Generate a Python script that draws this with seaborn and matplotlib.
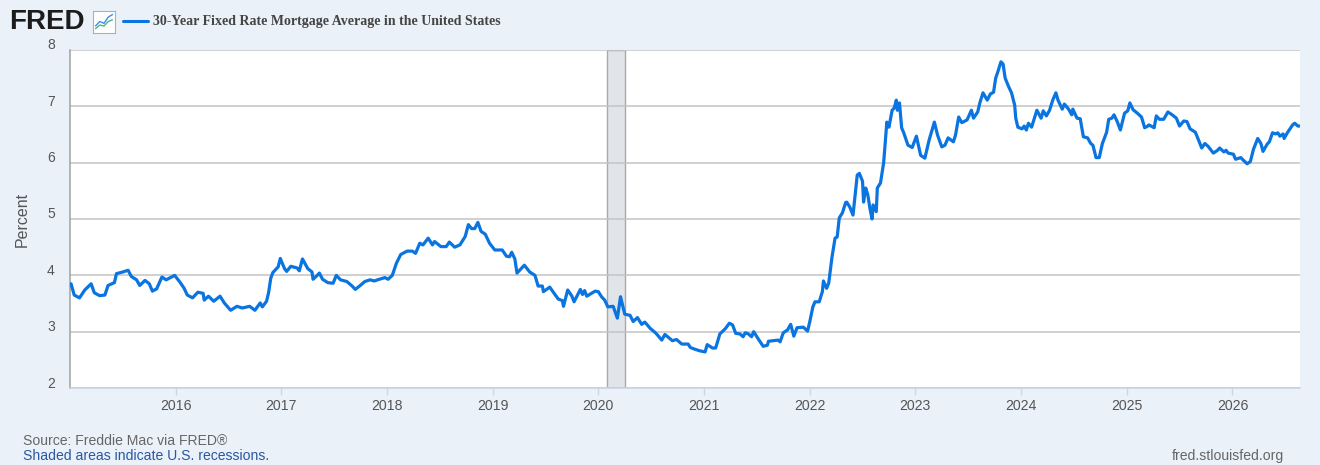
import pandas as pd
import seaborn as sns
import matplotlib
matplotlib.use('Agg')
import matplotlib.pyplot as plt
from matplotlib.lines import Line2D
from matplotlib.transforms import ScaledTranslation

# weekly readings, date as decimal year
obs_year = [
    2015.01, 2015.04, 2015.09, 2015.14, 2015.20, 2015.23, 2015.28, 2015.33, 2015.36, 2015.42, 2015.44, 2015.50,
    2015.55, 2015.58, 2015.63, 2015.66, 2015.71, 2015.75, 2015.78, 2015.82, 2015.87, 2015.91, 2015.99,
    2016.04, 2016.08, 2016.11, 2016.16, 2016.21, 2016.26, 2016.27, 2016.31, 2016.36, 2016.42, 2016.46, 2016.52,
    2016.58, 2016.63, 2016.70, 2016.75, 2016.80, 2016.82, 2016.86, 2016.88, 2016.90, 2016.92, 2016.97, 2016.99,
    2017.03, 2017.05, 2017.09, 2017.15, 2017.17, 2017.20, 2017.25, 2017.29, 2017.30, 2017.34, 2017.36, 2017.39,
    2017.44, 2017.49, 2017.52, 2017.56, 2017.62, 2017.67, 2017.70, 2017.74, 2017.79, 2017.84, 2017.88, 2017.91, 2017.98,
    2018.01, 2018.05, 2018.09, 2018.13, 2018.19, 2018.24, 2018.27, 2018.31, 2018.34, 2018.39, 2018.43, 2018.45,
    2018.51, 2018.56, 2018.59, 2018.64, 2018.69, 2018.74, 2018.77, 2018.80, 2018.83, 2018.86, 2018.89, 2018.93, 2018.97,
    2019.02, 2019.09, 2019.13, 2019.16, 2019.18, 2019.21, 2019.23, 2019.30, 2019.35, 2019.40, 2019.43, 2019.47, 2019.48,
    2019.54, 2019.57, 2019.62, 2019.66, 2019.67, 2019.71, 2019.75, 2019.77, 2019.83, 2019.85, 2019.87, 2019.89, 2019.97,
    2020.00, 2020.03, 2020.06, 2020.09, 2020.14, 2020.18, 2020.21, 2020.25, 2020.30, 2020.33, 2020.37, 2020.41, 2020.44,
    2020.49, 2020.54, 2020.56, 2020.60, 2020.63, 2020.70, 2020.74, 2020.79, 2020.85, 2020.87, 2020.91, 2020.96,
    2021.01, 2021.03, 2021.08, 2021.11, 2021.15, 2021.20, 2021.24, 2021.27, 2021.30, 2021.34, 2021.37, 2021.39, 2021.42,
    2021.45, 2021.47, 2021.51, 2021.56, 2021.60, 2021.61, 2021.70, 2021.72, 2021.75, 2021.79, 2021.82, 2021.85, 2021.88,
    2021.94, 2021.98,
    2022.00, 2022.03, 2022.05, 2022.09, 2022.12, 2022.13, 2022.16, 2022.18, 2022.21, 2022.24, 2022.26, 2022.28, 2022.31,
    2022.34, 2022.35, 2022.38, 2022.41, 2022.45, 2022.47, 2022.50, 2022.51, 2022.53, 2022.55, 2022.57, 2022.59, 2022.60,
    2022.63, 2022.64, 2022.67, 2022.70, 2022.73, 2022.75, 2022.78, 2022.80, 2022.82, 2022.83, 2022.85, 2022.87, 2022.89,
    2022.93, 2022.97,
    2023.01, 2023.05, 2023.09, 2023.13, 2023.18, 2023.21, 2023.25, 2023.28, 2023.31, 2023.36, 2023.38, 2023.41, 2023.44,
    2023.49, 2023.53, 2023.55, 2023.59, 2023.61, 2023.64, 2023.68, 2023.71, 2023.74, 2023.76, 2023.78, 2023.81, 2023.83,
    2023.85, 2023.88, 2023.91, 2023.94, 2023.95, 2023.97,
    2024.01, 2024.03, 2024.05, 2024.07, 2024.10, 2024.13, 2024.15, 2024.19, 2024.21, 2024.24, 2024.27, 2024.30, 2024.33,
    2024.35, 2024.39, 2024.41, 2024.45, 2024.48, 2024.49, 2024.53, 2024.56, 2024.59, 2024.63, 2024.66, 2024.68, 2024.71,
    2024.74, 2024.77, 2024.81, 2024.83, 2024.86, 2024.88, 2024.91, 2024.94, 2024.98,
    2025.01, 2025.03, 2025.06, 2025.10, 2025.14, 2025.17, 2025.20, 2025.21, 2025.26, 2025.28, 2025.31, 2025.35, 2025.39,
    2025.43, 2025.47, 2025.50, 2025.54, 2025.57, 2025.60, 2025.65, 2025.68, 2025.71, 2025.74, 2025.77, 2025.82, 2025.86,
    2025.88, 2025.92, 2025.94, 2025.96,
    2026.01, 2026.03, 2026.08, 2026.10, 2026.14, 2026.17, 2026.20, 2026.24, 2026.27, 2026.29, 2026.33, 2026.35, 2026.38,
    2026.41, 2026.43, 2026.45, 2026.48, 2026.49, 2026.52, 2026.57, 2026.59, 2026.62, 2026.64,
]

mortgage_rate = [
    3.85, 3.65, 3.60, 3.74, 3.85, 3.69, 3.64, 3.65, 3.82, 3.87, 4.03, 4.06,
    4.09, 3.98, 3.92, 3.82, 3.91, 3.85, 3.72, 3.76, 3.97, 3.92, 4.00,
    3.88, 3.77, 3.65, 3.60, 3.70, 3.68, 3.56, 3.63, 3.54, 3.63, 3.51, 3.38,
    3.45, 3.42, 3.45, 3.38, 3.51, 3.44, 3.54, 3.70, 3.95, 4.05, 4.15, 4.30,
    4.12, 4.07, 4.16, 4.13, 4.08, 4.29, 4.12, 4.06, 3.93, 4.00, 4.04, 3.93,
    3.87, 3.86, 4.00, 3.92, 3.89, 3.81, 3.75, 3.81, 3.89, 3.92, 3.90, 3.92, 3.96,
    3.93, 4.00, 4.22, 4.37, 4.43, 4.43, 4.39, 4.57, 4.54, 4.66, 4.54, 4.60,
    4.51, 4.51, 4.59, 4.50, 4.54, 4.69, 4.90, 4.83, 4.83, 4.94, 4.78, 4.73, 4.57,
    4.45, 4.45, 4.34, 4.33, 4.41, 4.29, 4.04, 4.18, 4.06, 4.00, 3.81, 3.81, 3.71,
    3.79, 3.71, 3.58, 3.55, 3.45, 3.74, 3.63, 3.53, 3.75, 3.66, 3.73, 3.63, 3.72,
    3.71, 3.62, 3.56, 3.44, 3.45, 3.24, 3.62, 3.31, 3.29, 3.18, 3.25, 3.13, 3.17,
    3.06, 2.98, 2.94, 2.85, 2.95, 2.84, 2.86, 2.78, 2.78, 2.72, 2.69, 2.66,
    2.64, 2.77, 2.71, 2.71, 2.96, 3.05, 3.15, 3.12, 2.97, 2.96, 2.91, 2.98, 2.96,
    2.91, 3.00, 2.88, 2.74, 2.76, 2.83, 2.85, 2.82, 2.98, 3.03, 3.13, 2.92, 3.07,
    3.08, 3.01,
    3.17, 3.44, 3.53, 3.53, 3.71, 3.90, 3.77, 3.86, 4.31, 4.66, 4.68, 5.02, 5.11,
    5.29, 5.30, 5.21, 5.07, 5.78, 5.81, 5.67, 5.30, 5.55, 5.43, 5.19, 5.00, 5.25,
    5.13, 5.55, 5.64, 6.00, 6.72, 6.63, 6.93, 6.97, 7.11, 6.93, 7.06, 6.62, 6.53,
    6.31, 6.27,
    6.47, 6.13, 6.08, 6.40, 6.72, 6.49, 6.28, 6.31, 6.44, 6.37, 6.49, 6.81, 6.71,
    6.76, 6.93, 6.79, 6.90, 7.06, 7.24, 7.11, 7.22, 7.25, 7.50, 7.61, 7.79, 7.75,
    7.50, 7.36, 7.24, 7.02, 6.79, 6.63,
    6.60, 6.65, 6.58, 6.70, 6.63, 6.81, 6.93, 6.79, 6.92, 6.83, 6.93, 7.11, 7.24,
    7.11, 6.95, 7.04, 6.95, 6.85, 6.95, 6.79, 6.78, 6.46, 6.44, 6.34, 6.31, 6.09,
    6.09, 6.34, 6.54, 6.77, 6.79, 6.85, 6.73, 6.58, 6.88,
    6.92, 7.06, 6.94, 6.88, 6.81, 6.62, 6.65, 6.67, 6.62, 6.83, 6.77, 6.77, 6.90,
    6.85, 6.79, 6.65, 6.74, 6.73, 6.60, 6.54, 6.40, 6.26, 6.34, 6.29, 6.17, 6.22,
    6.26, 6.19, 6.22, 6.17,
    6.15, 6.06, 6.09, 6.05, 5.98, 6.02, 6.24, 6.43, 6.34, 6.20, 6.33, 6.37, 6.53,
    6.51, 6.53, 6.47, 6.51, 6.43, 6.53, 6.67, 6.70, 6.65, 6.65,
]

recession_start = '2020-02-01'
recession_end = '2020-04-01'
y_ticks = [2, 3, 4, 5, 6, 7, 8]
x_tick_years = [2016, 2017, 2018, 2019, 2020, 2021, 2022, 2023, 2024, 2025, 2026]

series_name = '30-Year Fixed Rate Mortgage Average in the United States'
source_note = 'Source: Freddie Mac via FRED®'
shade_note = 'Shaded areas indicate U.S. recessions.'
site_note = 'fred.stlouisfed.org'

line_blue = '#0a74e0'
bg = '#eaf1f9'

df = pd.DataFrame({'year': obs_year, 'rate': mortgage_rate})
df['date'] = pd.Timestamp('2015-01-01') + pd.to_timedelta((df['year'] - 2015) * 365.25, unit='D')

sns.set_style('white')
plt.rcParams['font.family'] = ['Liberation Sans', 'DejaVu Sans']

W, H = 1320, 465
fig = plt.figure(figsize=(W / 100, H / 100), dpi=100, facecolor=bg)
ax = fig.add_axes([70 / W, 1 - 388 / H, 1230 / W, 338 / H])
ax.set_facecolor('white')

ax.axvspan(pd.Timestamp(recession_start), pd.Timestamp(recession_end),
           facecolor='#e1e5ea', edgecolor='#a8a8a8', lw=1, zorder=0.3)
sns.lineplot(data=df, x='date', y='rate', ax=ax, color=line_blue, linewidth=2.3, zorder=3)

ax.set_xlim(pd.Timestamp('2015-01-01'), df['date'].max())
ax.set_ylim(2, 8)
ax.set_yticks(y_ticks)
ax.set_axisbelow(True)
ax.yaxis.grid(True, color='#c4c4c4', lw=1.1)
ax.xaxis.grid(False)

ax.set_xticks([pd.Timestamp(f'{y}-01-01') for y in x_tick_years])
ax.set_xticklabels([str(y) for y in x_tick_years])
ax.tick_params(axis='x', length=5, width=1, color='#ccd6eb', labelsize=10.2,
               labelcolor='#555555', pad=3, bottom=True)
ax.tick_params(axis='y', length=0, labelsize=10, labelcolor='#555555', pad=11)
for lab in ax.get_yticklabels():
    lab.set_transform(lab.get_transform() + ScaledTranslation(0, 6 / 100, fig.dpi_scale_trans))

ax.set_xlabel('')
ax.set_ylabel('Percent', fontsize=11.5, color='#555555')
ax.yaxis.set_label_coords(-40 / 1230, 0.5)

for side in ['top', 'right']:
    ax.spines[side].set_visible(False)
ax.spines['left'].set_color('#a0a0a0')
ax.spines['left'].set_linewidth(1.1)
ax.spines['bottom'].set_color('#c8d2e2')
ax.spines['bottom'].set_linewidth(1.1)

# header: logo, small icon, legend entry
fig.text(9 / W, 1 - 22 / H, 'FRED', fontsize=20, fontweight='heavy', color='#1c1c1c', va='center')
icon = fig.add_axes([93 / W, 1 - 33 / H, 22 / W, 22 / H])
icon.plot([0, 1, 2, 3, 4], [1, 2, 1.6, 3, 3.6], color='#3d8ee0', lw=1)
icon.plot([0, 1, 2, 3, 4], [0.4, 1.2, 1.0, 2.0, 2.4], color='#4fb48a', lw=1)
icon.set_xlim(-0.6, 4.6)
icon.set_ylim(-0.6, 4.4)
icon.set_xticks([])
icon.set_yticks([])
icon.set_facecolor('white')
for s in icon.spines.values():
    s.set_color('#b0b0b0')

fig.add_artist(Line2D([123 / W, 148 / W], [1 - 21 / H, 1 - 21 / H], color=line_blue, lw=2.2))
fig.text(153 / W, 1 - 21 / H, series_name, family=['Liberation Serif', 'DejaVu Serif'],
         fontweight='bold', fontsize=10, color='#444444', va='center')

# footer
fig.text(23 / W, 1 - 441 / H, source_note, fontsize=10.1, color='#666666', va='center')
fig.text(23 / W, 1 - 456 / H, shade_note, fontsize=10.1, color='#2a57a0', va='center')
fig.text(1284 / W, 1 - 456 / H, site_note, fontsize=10.1, color='#666666', va='center', ha='right')

fig.savefig('out.png', dpi=100, facecolor=bg)
